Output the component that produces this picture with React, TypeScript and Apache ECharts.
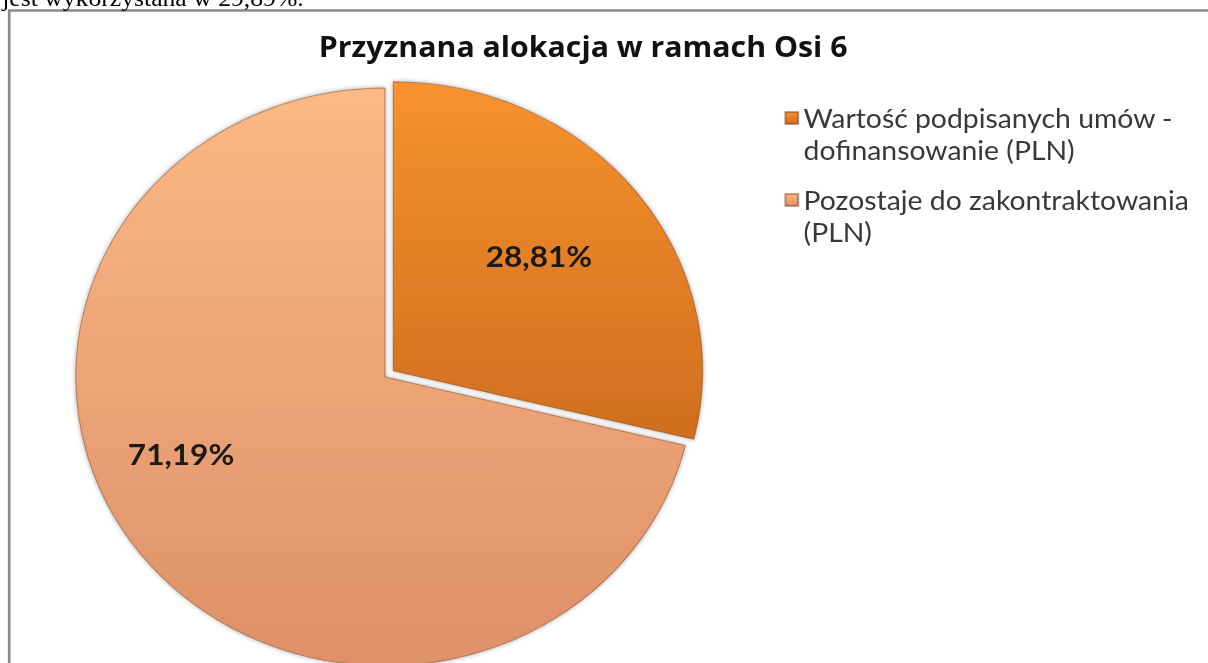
import React, { useEffect, useRef } from "react";
import * as echarts from "echarts";

const categories = [
  "Wartość podpisanych umów -\ndofinansowanie (PLN)",
  "Pozostaje do zakontraktowania\n(PLN)",
];
const shares = [28.81, 71.19];
const chartTitle = "Przyznana alokacja w ramach Osi 6";
const pageText = "jest wykorzystana w 29,89%.";

const SX = 1.07;
const W = 1208 / SX;
const H = 663;
const LABEL_FONT = "Lato, 'Open Sans', sans-serif";
const TEXT_FONT = "'Open Sans', Lato, sans-serif";

const sliceColors = [
  new echarts.graphic.LinearGradient(0, 0, 0, 1, [
    { offset: 0, color: "#F8922E" },
    { offset: 1, color: "#CF6E1E" },
  ]),
  new echarts.graphic.LinearGradient(0, 0, 0, 1, [
    { offset: 0, color: "#FCB885" },
    { offset: 1, color: "#DE9068" },
  ]),
];

const lightLabelPos = [169.2, 454];

export default function App() {
  const ref = useRef<HTMLDivElement>(null);
  useEffect(() => {
    if (!ref.current) return;
    const chart = echarts.init(ref.current, undefined, { renderer: "svg" });
    chart.setOption({
      animation: false,
      backgroundColor: "#ffffff",
      title: {
        text: chartTitle,
        left: 540,
        top: 27,
        textAlign: "center",
        textStyle: { fontFamily: TEXT_FONT, fontWeight: "bold", fontSize: 28.3, color: "#111" },
      },
      legend: {
        orient: "vertical",
        left: 733,
        top: 102,
        padding: 0,
        itemGap: 18,
        itemWidth: 12,
        itemHeight: 44,
        icon: "path://M0,44M0,0L12,0L12,12L0,12Z",
        selectedMode: false,
        data: categories,
        textStyle: { fontFamily: LABEL_FONT, fontSize: 26.5, lineHeight: 32, color: "#383838" },
      },
      graphic: [
        {
          type: "text",
          left: 2,
          top: -14,
          silent: true,
          style: {
            text: pageText,
            fontSize: 24,
            fontFamily: "'Liberation Serif', 'Times New Roman', serif",
            fill: "#000",
          },
        },
        {
          type: "rect",
          silent: true,
          shape: { x: 8.6, y: 10.5, width: 1200, height: 700 },
          style: { fill: "none", stroke: "#8a8a8a", lineWidth: 2.5 },
          z: -1,
        },
      ],
      series: [
        {
          type: "pie",
          center: [359.8, 377],
          radius: 289,
          startAngle: 90,
          clockwise: true,
          selectedMode: "single",
          selectedOffset: 10,
          label: {
            show: true,
            position: "inside",
            fontFamily: LABEL_FONT,
            fontWeight: "bold",
            fontSize: 29.5,
            color: "#1a1a1a",
            formatter: (p: any) =>
              p.value.toFixed(2).replace(".", ",") + "%" + (p.dataIndex === 0 ? "\n" : ""),
          },
          labelLine: { show: false },
          labelLayout: (p: any) =>
            p.dataIndex === 1
              ? { x: lightLabelPos[0], y: lightLabelPos[1], align: "center", verticalAlign: "middle" }
              : {},
          emphasis: { disabled: true },
          itemStyle: {
            borderColor: "rgba(110,55,15,0.45)",
            borderWidth: 1,
            shadowBlur: 5,
            shadowColor: "rgba(0,0,0,0.35)",
          },
          data: categories.map((name, i) => ({
            name,
            value: shares[i],
            selected: i === 0,
            itemStyle: { color: sliceColors[i] },
            select: { itemStyle: { color: sliceColors[i] } },
            label: i === 0 ? { padding: [0, 0, 0, 40], lineHeight: 48 } : {},
          })),
        },
      ],
    });
    return () => chart.dispose();
  }, []);
  return (
    <div style={{ position: "fixed", left: 0, top: 0, width: 1208, height: H, overflow: "hidden", background: "#fff" }}>
      <div
        ref={ref}
        style={{ width: W, height: H, transform: `scaleX(${SX})`, transformOrigin: "0 0" }}
      />
    </div>
  );
}
